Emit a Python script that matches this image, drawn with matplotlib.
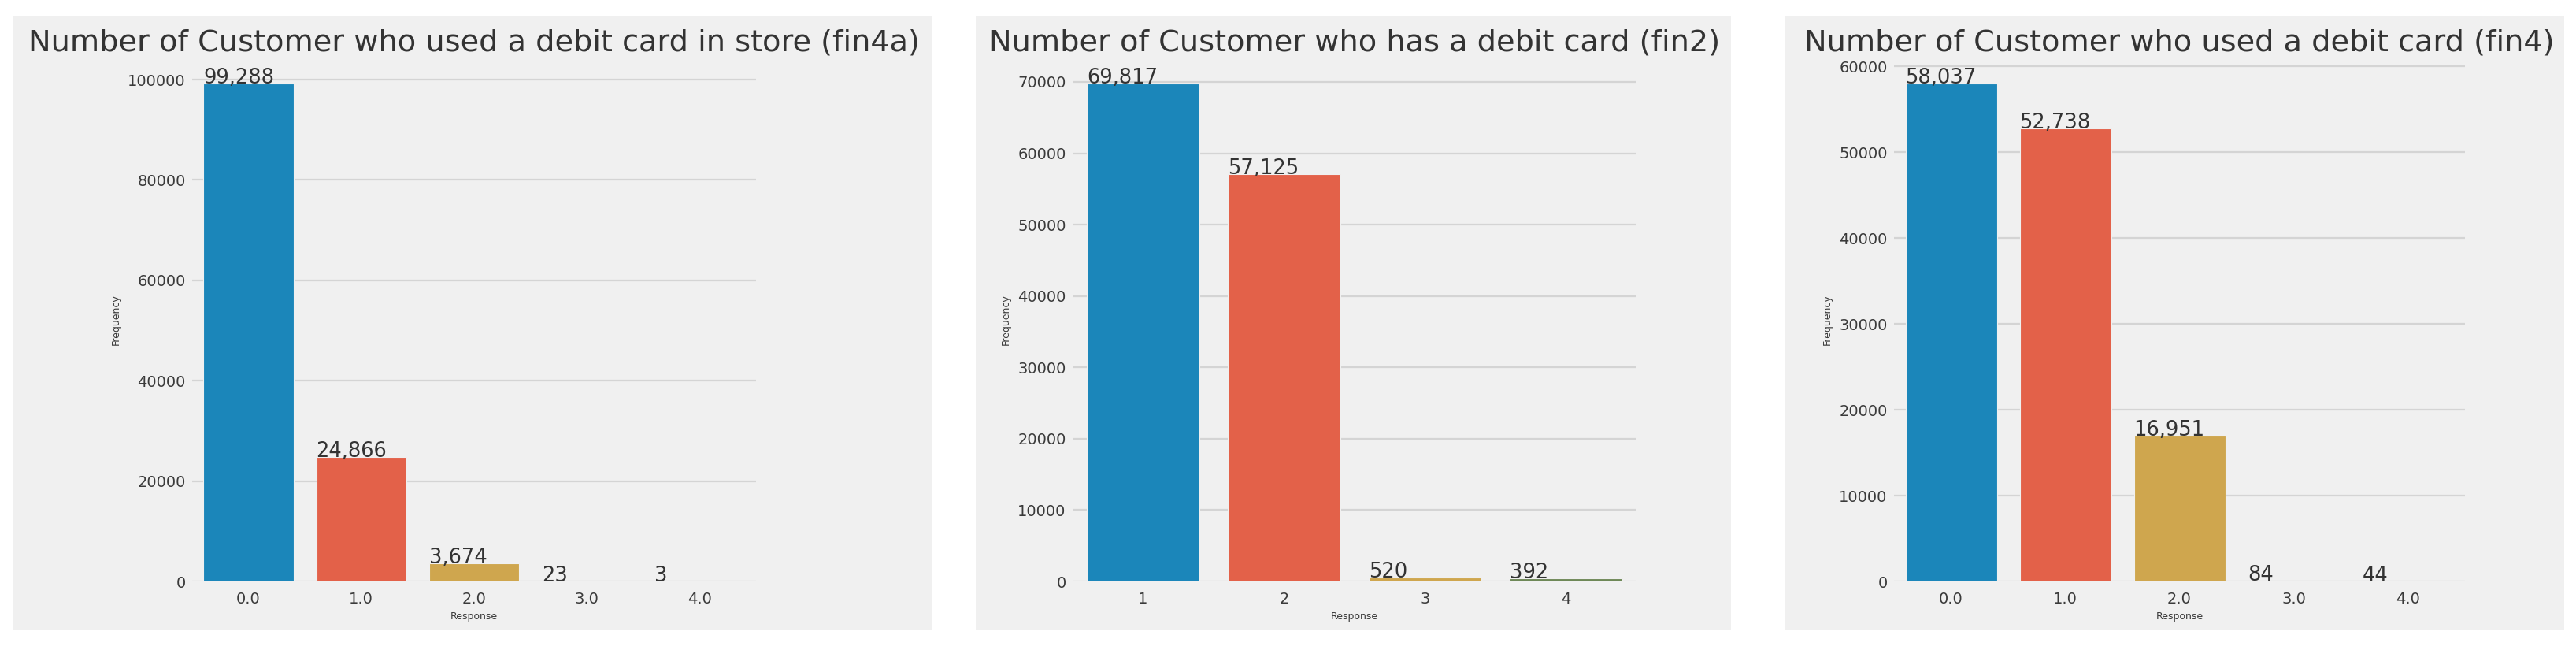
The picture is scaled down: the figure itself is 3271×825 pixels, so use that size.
import colorsys
import matplotlib
matplotlib.use("Agg")
import matplotlib.pyplot as plt
from matplotlib.patches import Rectangle
from matplotlib.colors import to_rgb

plt.style.use("fivethirtyeight")
plt.rcParams["font.family"] = ["DejaVu Sans"]

# ---- data ----
titles = [
    "Number of Customer who used a debit card in store (fin4a)",
    "Number of Customer who has a debit card (fin2)",
    "Number of Customer who used a debit card (fin4)",
]
cats_fin4a = ["0.0", "1.0", "2.0", "3.0", "4.0"]
vals_fin4a = [99288, 24866, 3674, 23, 3]
cats_fin2 = ["1", "2", "3", "4"]
vals_fin2 = [69817, 57125, 520, 392]
cats_fin4 = ["0.0", "1.0", "2.0", "3.0", "4.0"]
vals_fin4 = [58037, 52738, 16951, 84, 44]

xlabel = "Response"
ylabel = "Frequency"

base_colors = ["#008fd5", "#fc4f30", "#e5ae38", "#6d904f", "#8b8b8b"]


def desaturate(c, prop=0.75):
    h, l, s = colorsys.rgb_to_hls(*to_rgb(c))
    return colorsys.hls_to_rgb(h, l, s * prop)


colors = [desaturate(c) for c in base_colors]

W, H = 3271, 825
fig = plt.figure(figsize=(W / 100, H / 100), dpi=100, facecolor="white")

# grey panels (pixel coords: x0, x1) behind each chart
panels = [(17, 1183), (1239, 2198), (2266, 3256)]
for x0, x1 in panels:
    fig.patches.append(Rectangle((x0 / W, 1 - 799 / H), (x1 - x0) / W, 779 / H,
                                 transform=fig.transFigure, facecolor="#f0f0f0",
                                 edgecolor="none", zorder=-5))

axes_px = [(244, 960), (1362, 2078), (2405, 3130)]
ax_top, ax_bot = 74, 738

datasets = [(cats_fin4a, vals_fin4a), (cats_fin2, vals_fin2), (cats_fin4, vals_fin4)]
text_color = "#3a3a3a"

for (x0, x1), (cats, vals), title in zip(axes_px, datasets, titles):
    ax = fig.add_axes([x0 / W, 1 - ax_bot / H, (x1 - x0) / W, (ax_bot - ax_top) / H])
    ax.set_facecolor("#f0f0f0")
    pos = list(range(len(cats)))
    bars = ax.bar(pos, vals, width=0.8, color=colors[:len(cats)],
                  edgecolor="#f0f0f0", linewidth=0.8, zorder=2)
    ax.set_xlim(-0.5, len(cats) - 0.5)
    ax.set_ylim(0, max(vals) * 1.05)
    ax.set_xticks(pos)
    ax.set_xticklabels(cats)
    ax.xaxis.grid(False)
    ax.yaxis.grid(True, color="#d4d4d4", linewidth=1.6)
    ax.tick_params(axis="both", labelsize=14, colors=text_color)
    ax.tick_params(axis="x", pad=9)
    ax.tick_params(axis="y", pad=6)
    for s in ax.spines.values():
        s.set_visible(False)
    ax.set_xlabel(xlabel, fontsize=9, color=text_color, labelpad=5)
    ax.set_ylabel(ylabel, fontsize=9, color=text_color, labelpad=6)
    for b, v in zip(bars, vals):
        ax.annotate(format(v, ",d"), (b.get_x(), b.get_height()),
                    fontsize=18.5, color="#333333", ha="left", va="baseline",
                    zorder=3)
    fig.text((x0 + x1) / 2 / W, 1 - 64 / H, title, ha="center", va="baseline",
             fontsize=27.5, color="#333333")

fig.savefig("out.png", dpi=100, facecolor="white")
